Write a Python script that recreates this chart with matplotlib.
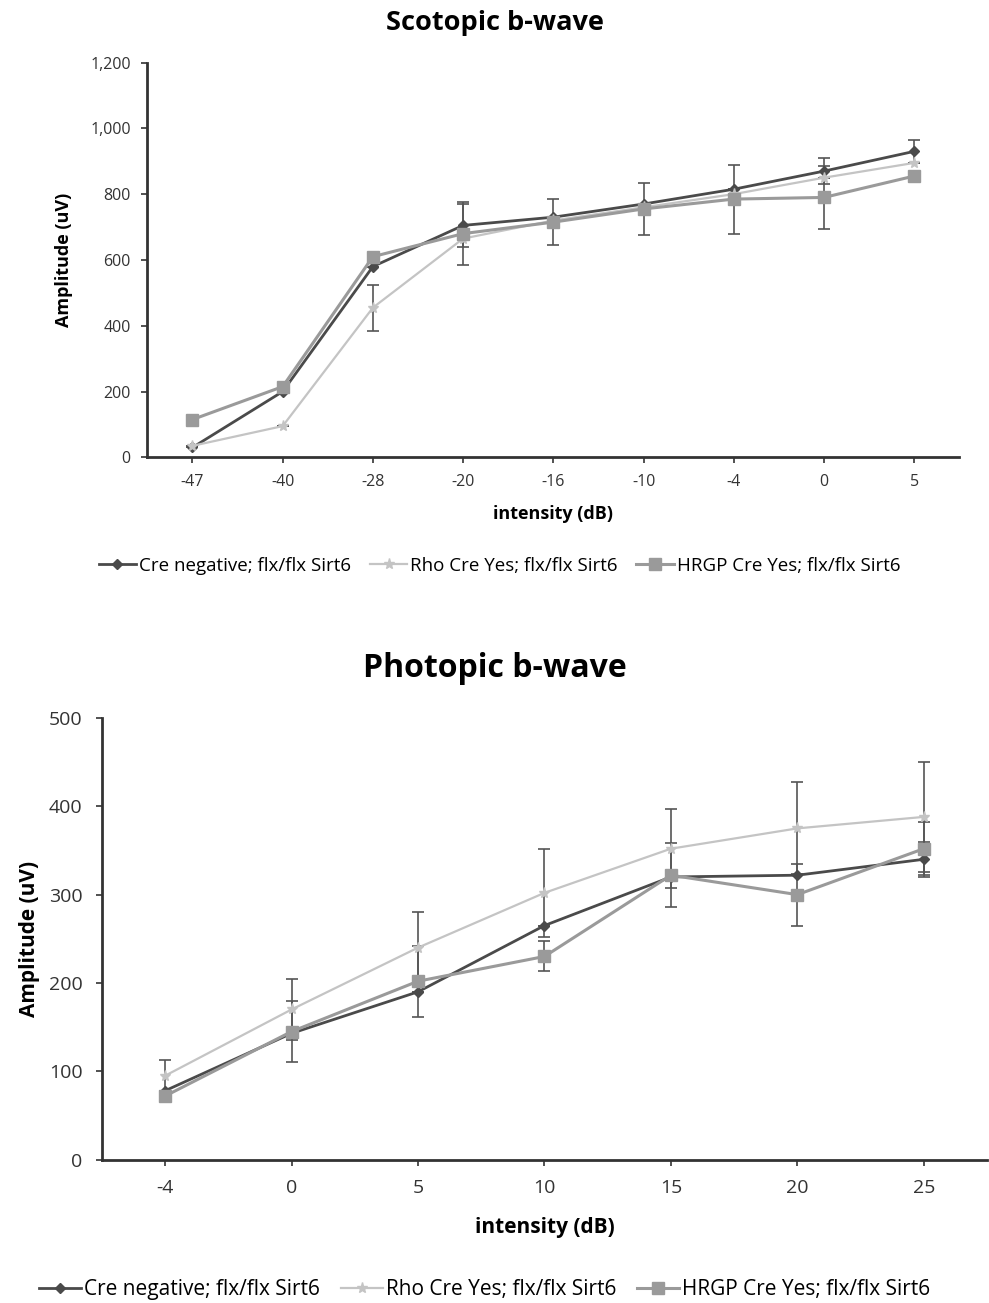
import numpy as np
from matplotlib import pyplot as plt
from matplotlib.ticker import FuncFormatter

plt.rcParams['font.family'] = ['Open Sans', 'DejaVu Sans']

# Scotopic b-wave
scot_x = ['-47', '-40', '-28', '-20', '-16', '-10', '-4', '0', '5']
scot_cre = [30, 200, 580, 705, 730, 770, 815, 870, 930]
scot_rho = [35, 95, 455, 665, 720, 760, 800, 850, 895]
scot_hrgp = [115, 215, 610, 680, 715, 755, 785, 790, 855]
scot_cre_err = [0, 0, 0, 65, 0, 0, 0, 40, 35]
scot_rho_err = [0, 0, 70, 0, 0, 0, 0, 0, 0]
scot_hrgp_err = [0, 0, 0, 95, 70, 80, 105, 95, 0]

# Photopic b-wave
phot_x = ['-4', '0', '5', '10', '15', '20', '25']
phot_cre = [78, 143, 190, 265, 320, 322, 340]
phot_rho = [95, 170, 240, 302, 352, 375, 388]
phot_hrgp = [72, 145, 202, 230, 322, 300, 352]
phot_cre_err = [0, 0, 0, 0, 0, 0, 20]
phot_rho_err = [18, 35, 40, 50, 45, 52, 62]
phot_hrgp_err = [0, 35, 40, 17, 36, 35, 30]

labels = ['Cre negative; flx/flx Sirt6', 'Rho Cre Yes; flx/flx Sirt6',
          'HRGP Cre Yes; flx/flx Sirt6']
styles = [
    dict(color='#4a4a4a', marker='D', markersize=5, lw=2.0),
    dict(color='#c4c4c4', marker='*', markersize=8, lw=1.6),
    dict(color='#9a9a9a', marker='s', markersize=9, lw=2.2),
]


def draw(ax, cats, series, errs, ylim, ystep, fmt, tick_fs, pad):
    x = np.arange(len(cats))
    handles = []
    for y, e, st in zip(series, errs, styles):
        ax.errorbar(x, y, yerr=e, fmt='none', ecolor='#555555', elinewidth=1.2,
                    capsize=4, capthick=1.2, zorder=2)
        h, = ax.plot(x, y, zorder=3, **st)
        handles.append(h)
    ax.set_xlim(-0.5, len(cats) - 0.5)
    ax.set_ylim(*ylim)
    ax.set_xticks(x)
    ax.set_xticklabels(cats)
    ax.set_yticks(np.arange(ylim[0], ylim[1] + 1, ystep))
    ax.yaxis.set_major_formatter(FuncFormatter(fmt))
    for s in ['top', 'right']:
        ax.spines[s].set_visible(False)
    for s in ['left', 'bottom']:
        ax.spines[s].set_linewidth(2.0)
        ax.spines[s].set_color('#333333')
    ax.tick_params(labelsize=tick_fs, colors='#333333', length=4, width=1.2,
                   pad=pad)
    return handles


fig = plt.figure(figsize=(9.89, 13.03), dpi=100)

ax1 = fig.add_axes([0.149, 0.649, 0.821, 0.303])
h = draw(ax1, scot_x, [scot_cre, scot_rho, scot_hrgp],
         [scot_cre_err, scot_rho_err, scot_hrgp_err],
         (0, 1200), 200, lambda v, p: f'{int(v):,}', 11.5, 8)
fig.text(0.50, 0.982, 'Scotopic b-wave', ha='center', va='center',
         fontsize=19.5, fontweight='bold')
ax1.set_xlabel('intensity (dB)', fontsize=13, fontweight='bold', labelpad=11)
ax1.set_ylabel('Amplitude (uV)', fontsize=13, fontweight='bold', labelpad=12)
fig.legend(h, labels, loc='center', bbox_to_anchor=(0.505, 0.566), ncol=3,
           frameon=False, fontsize=13.5, handlelength=2.0, columnspacing=1.0,
           handletextpad=0.15)

ax2 = fig.add_axes([0.103, 0.110, 0.895, 0.339])
h = draw(ax2, phot_x, [phot_cre, phot_rho, phot_hrgp],
         [phot_cre_err, phot_rho_err, phot_hrgp_err],
         (0, 500), 100, lambda v, p: f'{int(v)}', 14, 10)
fig.text(0.50, 0.487, 'Photopic b-wave', ha='center', va='center',
         fontsize=23, fontweight='bold')
ax2.set_xlabel('intensity (dB)', fontsize=15, fontweight='bold', labelpad=14)
ax2.set_ylabel('Amplitude (uV)', fontsize=15, fontweight='bold', labelpad=6)
fig.legend(h, labels, loc='center', bbox_to_anchor=(0.49, 0.010), ncol=3,
           frameon=False, fontsize=15, handlelength=2.0, columnspacing=1.0,
           handletextpad=0.15)

plt.savefig('out.png')
